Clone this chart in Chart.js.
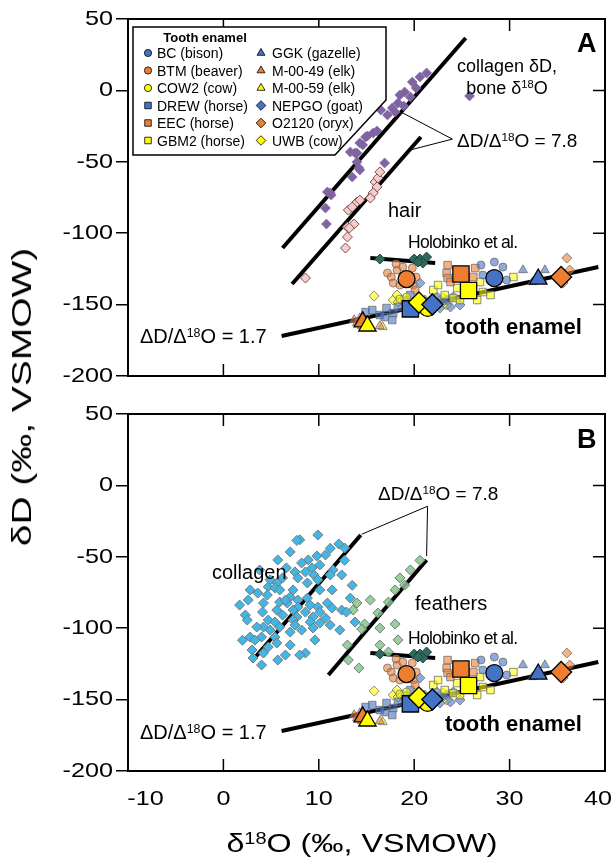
<!DOCTYPE html>
<html>
<head>
<meta charset="utf-8">
<title>dD vs d18O</title>
<script src="https://cdn.jsdelivr.net/npm/chart.js@4.4.1/dist/chart.umd.min.js"></script>
<style>
  html, body { margin: 0; padding: 0; background: #fff; }
  body { position: relative; width: 612px; height: 857px; overflow: hidden;
         font-family: "Liberation Sans", Arial, sans-serif; color: #000; }
  canvas { position: absolute; left: 0; }
  .t { position: absolute; white-space: nowrap; line-height: 1; z-index: 2; }
  .t sup { font-size: 0.62em; line-height: 0; vertical-align: 0.5em; }
  .l { transform: translateY(-50%); }
  .c { transform: translate(-50%, -50%); text-align: center; }
  .ann { font-size: 20px; }
  .leg { font-size: 14px; }
  .panel-id { font-size: 27px; font-weight: bold; transform: translateY(-50%); }
</style>
</head>
<body>
<canvas id="panelA" width="612" height="400" style="top:0"></canvas>
<canvas id="panelB" width="612" height="462" style="top:395px"></canvas>

<!-- axis titles -->
<div class="t" style="left:22px; top:397px; font-size:28px; transform: translate(-50%,-50%) rotate(-90deg) scaleX(1.39);">δD (‰, VSMOW)</div>
<div class="t" style="left:362px; top:843px; font-size:26px; transform: translate(-50%,-50%) scaleX(1.24);">δ<sup>18</sup>O (‰, VSMOW)</div>

<!-- legend text -->
<div class="t c" style="left:205px; top:37px; font-size:13px; font-weight:bold;">Tooth enamel</div>
<div id="legendText"></div>

<!-- panel A notes -->
<div class="t panel-id" style="left:577px; top:43px;">A</div>
<div class="t c" style="left:507px; top:77px; font-size:18px; line-height:22px;">collagen δD,<br>bone δ<sup>18</sup>O</div>
<div class="t l" style="left:457px; top:140px; font-size:19px;">ΔD/Δ<sup>18</sup>O = 7.8</div>
<div class="t ann l" style="left:388px; top:210px;">hair</div>
<div class="t l" style="left:408px; top:243px; font-size:17.5px; letter-spacing:-0.7px;">Holobinko et al.</div>
<div class="t l" style="left:445px; top:327px; font-size:22px; font-weight:bold;">tooth enamel</div>
<div class="t ann l" style="left:140px; top:336px;">ΔD/Δ<sup>18</sup>O = 1.7</div>

<!-- panel B notes -->
<div class="t panel-id" style="left:577px; top:439px;">B</div>
<div class="t ann l" style="left:212px; top:572px;">collagen</div>
<div class="t l" style="left:378px; top:493px; font-size:19px;">ΔD/Δ<sup>18</sup>O = 7.8</div>
<div class="t ann l" style="left:415px; top:603px;">feathers</div>
<div class="t l" style="left:408px; top:639px; font-size:17.5px; letter-spacing:-0.7px;">Holobinko et al.</div>
<div class="t l" style="left:445px; top:724px; font-size:22px; font-weight:bold;">tooth enamel</div>
<div class="t ann l" style="left:140px; top:732px;">ΔD/Δ<sup>18</sup>O = 1.7</div>

<script>
// axes
const X_TICKS = [-10, 0, 10, 20, 30, 40];
const Y_TICKS = [-200, -150, -100, -50, 0, 50];

// panel A: bone collagen dD vs bone d18O
const COLLAGEN_A = [[21.3,12.2],[20.6,9.4],[19.8,5.9],[20.2,1.7],[19.0,-1.1],[19.6,-4.6],[18.5,-3.2],
  [18.3,-8.8],[18.9,-10.9],[17.7,-12.3],[17.2,-17.2],[18.0,-15.1],[25.8,-3.9],[16.5,-13.7],
  [16.1,-28.4],[15.7,-29.8],[15.1,-31.9],[14.9,-32.6],[14.3,-36.8],[14.6,-38.2],[13.3,-43.1],
  [13.8,-43.8],[14.0,-43.8],[16.9,-50.8],[14.0,-50.1],[14.2,-54.3],[14.3,-55.7],[13.5,-60.6],
  [10.9,-71.1],[11.2,-71.8],[11.3,-73.3],[10.7,-82.4],[10.8,-93.6]];
// panel A: hair
const HAIR = [[15.9,-64.1],[16.2,-61.3],[16.1,-67.6],[15.7,-71.8],[15.4,-75.4],[14.0,-78.2],[14.3,-76.8],
  [13.1,-83.8],[13.5,-81.7],[13.0,-95.7],[13.7,-93.6],[13.2,-96.4],[13.0,-102.7],[12.8,-110.4],
  [8.6,-131.4],[16.4,-57.1]];
// both panels: Holobinko et al.
const HOLOBINKO = [[16.4,-118.1],[20.0,-118.1],[20.6,-118.1],[21.3,-116.7],[20.9,-120.9],[20.4,-120.2]];

// panel B: collagen
const COLLAGEN_B = [[12.1,-41.0],[9.8,-49.4],[8.9,-52.2],[10.1,-55.7],[8.2,-54.3],[9.3,-57.8],[6.6,-57.8],
  [7.5,-60.6],[8.6,-60.6],[9.5,-62.7],[12.4,-62.7],[7.8,-64.8],[8.8,-68.3],[5.6,-68.3],[4.7,-71.1],
  [5.4,-71.8],[3.6,-75.4],[5.9,-73.2],[7.3,-73.2],[4.6,-76.8],[10.1,-73.2],[11.4,-73.2],[7.0,-78.2],
  [7.8,-80.3],[8.8,-78.9],[4.2,-82.4],[5.9,-81.7],[6.7,-82.4],[7.8,-85.2],[9.1,-83.8],[9.9,-85.2],
  [10.9,-82.4],[5.6,-87.3],[7.3,-87.3],[8.6,-88.7],[10.1,-88.7],[11.4,-85.9],[12.4,-87.3],[6.2,-90.8],
  [7.7,-92.2],[9.4,-92.2],[10.7,-92.9],[12.9,-88.7],[4.7,-94.3],[5.4,-95.7],[7.3,-94.3],[9.1,-95.7],
  [10.1,-96.4],[4.2,-99.2],[5.9,-99.2],[8.2,-101.3],[9.4,-99.9],[3.5,-99.2],[4.9,-101.3],[2.8,-106.2],
  [4.0,-106.2],[5.4,-106.2],[7.0,-102.7],[2.0,-108.4],[3.3,-108.4],[5.6,-110.4],[4.7,-113.2],
  [3.0,-115.3],[4.2,-117.4],[3.1,-120.9],[8.6,-117.4],[5.7,-122.3],[8.0,-38.1],[9.9,-34.7],
  [10.7,-48.7],[7.0,-46.6],[5.7,-52.2],[6.2,-64.8],[11.5,-59.2],[13.3,-78.9],[13.8,-95.7],
  [2.3,-90.8],[4.1,-88.7],[2.6,-80.3],[12.7,-43.8],[7.7,-38.5],[11.2,-44.1],[12.7,-52.5],
  [13.5,-70.0],[3.8,-59.2],[4.9,-66.1],[2.8,-73.2],[1.7,-83.8],[2.5,-94.3],[7.0,-111.8],
  [8.0,-118.8],[4.0,-125.8],[6.5,-118.8],[9.6,-108.2],[11.2,-97.8],[12.2,-101.3],[7.5,-97.8],
  [6.5,-80.3],[9.9,-66.1],[11.2,-62.7]];
// panel B: feathers
const FEATHERS = [[20.6,-52.5],[19.6,-59.2],[18.5,-64.8],[18.0,-73.2],[17.3,-81.7],[16.2,-89.4],
  [14.8,-97.1],[18.0,-97.1],[16.4,-99.9],[14.5,-100.6],[13.0,-111.8],[16.4,-111.8],[13.1,-122.3],
  [14.2,-127.9],[14.0,-82.4],[13.6,-87.3],[15.4,-80.3],[19.0,-69.8],[17.3,-116.7],[18.3,-108.2]];

// tooth enamel, individual samples
const BC = [[27.0,-122.3],[28.4,-120.2],[29.3,-123.7],[29.7,-132.8],[27.2,-129.3]];
const BTM = [[17.2,-127.9],[17.6,-130.7],[18.2,-125.8],[18.8,-123.7],[19.8,-124.4],[17.8,-134.9],
  [19.9,-136.3],[20.1,-139.8],[18.5,-136.3],[20.2,-130.7],[18.1,-121.6]];
const COW2 = [[18.5,-146.1],[19.2,-144.7],[22.4,-150.3]];
const DREW = [[17.1,-152.4],[17.8,-155.9],[16.9,-158.7],[18.3,-151.7],[16.4,-157.3],[17.7,-160.8],
  [19.0,-146.8],[19.6,-143.3],[15.6,-153.8],[14.9,-155.2]];
const EEC = [[23.5,-122.3],[23.4,-127.9],[23.5,-131.4],[26.4,-124.4],[26.2,-130.7],[23.8,-134.2]];
const GBM2 = [[22.0,-139.8],[24.5,-138.4],[24.1,-145.4],[26.6,-146.8],[26.9,-134.2],[30.4,-130.7],
  [24.8,-146.8],[23.2,-143.3],[27.2,-141.2],[22.5,-136.3],[25.8,-139.8],[28.0,-143.3]];
const GGK = [[31.4,-125.8],[33.7,-125.8],[33.4,-132.8],[32.4,-134.2]];
const M0049 = [[13.7,-160.8],[14.0,-162.9],[16.4,-165.0],[14.3,-159.4]];
const M0059 = [[16.7,-165.7],[14.5,-165.0]];
const NEPGO = [[20.6,-134.9],[22.4,-144.7],[23.0,-148.2],[23.4,-146.8],[23.8,-151.7],[22.7,-152.4],
  [24.1,-144.7],[24.8,-150.3],[21.7,-153.8],[21.1,-146.8]];
const O2120 = [[36.0,-117.4],[36.3,-125.8],[35.6,-134.9]];
const UWB = [[15.8,-144.0],[17.8,-146.8],[18.3,-148.2],[18.8,-146.8],[23.0,-145.4],[23.4,-150.3],[18.2,-143.3]];

// tooth enamel, specimen means
const BC_MEAN = [28.4, -131.4];
const BTM_MEAN = [19.2, -132.1];
const COW2_MEAN = [21.4, -152.3];
const DREW_MEAN = [19.6, -153.0];
const EEC_MEAN = [24.9, -128.6];
const GBM2_MEAN = [25.7, -140.1];
const GGK_MEAN = [33.0, -132.1];
const M0049_MEAN = [14.6, -162.1];
const M0059_MEAN = [15.1, -165.0];
const NEPGO_MEAN = [21.9, -149.9];
const O2120_MEAN = [35.4, -130.7];
const UWB_MEAN = [20.5, -148.5];

// regression lines (end points)
const LINE_COLLAGEN_A = [[6.2,-110.4],[25.4,36.7]];
const LINE_HAIR = [[7.2,-135.6],[20.7,-32.6]];
const LINE_COLLAGEN_B = [[3.0,-123.0],[14.4,-34.7]];
const LINE_FEATHERS = [[11.0,-132.8],[21.3,-52.2]];
const LINE_HOLOBINKO = [[15.4,-117.4],[22.2,-120.9]];
const LINE_ENAMEL = [[6.1,-172.0],[39.3,-123.7]];
// leader lines to the 7.8 labels
const LEADER_A = [[18.6,-15.1],[24.0,-34.1],[19.6,-41.7]];
const LEADER_B1 = [[14.5,-34.2],[21.4,-14.6]];
const LEADER_B2 = [[21.4,-14.6],[21.3,-49.4]];

const FONT = '"Liberation Sans", Arial, sans-serif';
const BLUE = 'rgb(68,114,196)';
const ORANGE = 'rgb(237,125,49)';
const YELLOW = 'rgb(255,255,0)';

// meanOrder: lower is drawn on top
const enamelGroups = [
  {label: 'BC (bison)', pts: BC, mean: BC_MEAN, color: BLUE, shape: 'circle', meanOrder: 2},
  {label: 'BTM (beaver)', pts: BTM, mean: BTM_MEAN, color: ORANGE, shape: 'circle', meanOrder: 2},
  {label: 'COW2 (cow)', pts: COW2, mean: COW2_MEAN, color: YELLOW, shape: 'circle', meanOrder: 4},
  {label: 'DREW (horse)', pts: DREW, mean: DREW_MEAN, color: BLUE, shape: 'rect', meanOrder: 3},
  {label: 'EEC (horse)', pts: EEC, mean: EEC_MEAN, color: ORANGE, shape: 'rect', meanOrder: 2},
  {label: 'GBM2 (horse)', pts: GBM2, mean: GBM2_MEAN, color: YELLOW, shape: 'rect', meanOrder: 2},
  {label: 'GGK (gazelle)', pts: GGK, mean: GGK_MEAN, color: BLUE, shape: 'triangle', meanOrder: 2},
  {label: 'M-00-49 (elk)', pts: M0049, mean: M0049_MEAN, color: ORANGE, shape: 'triangle', meanOrder: 3},
  {label: 'M-00-59 (elk)', pts: M0059, mean: M0059_MEAN, color: YELLOW, shape: 'triangle', meanOrder: 2},
  {label: 'NEPGO (goat)', pts: NEPGO, mean: NEPGO_MEAN, color: BLUE, shape: 'rectRot', meanOrder: 0},
  {label: 'O2120 (oryx)', pts: O2120, mean: O2120_MEAN, color: ORANGE, shape: 'rectRot', meanOrder: 2},
  {label: 'UWB (cow)', pts: UWB, mean: UWB_MEAN, color: YELLOW, shape: 'rectRot', meanOrder: 1}
];
const smallSize = {circle: 4, rect: 5.3, triangle: 5.2, rectRot: 5};
const meanSize = {circle: 8.5, rect: 11.5, triangle: 10, rectRot: 10.5};
const legendSize = {circle: 3.6, rect: 4.6, triangle: 4.6, rectRot: 4.8};

const fade = (rgb, a) => rgb.replace('rgb(', 'rgba(').replace(')', ',' + a + ')');
const xy = arr => arr.map(p => ({x: p[0], y: p[1]}));

function lineSet(seg, width) {
  return {data: xy(seg), showLine: true, borderColor: '#000', borderWidth: width,
    pointRadius: 0, order: 20};
}

function pointSet(pts, shape, r, fill, stroke, bw, order) {
  return {data: xy(pts), pointStyle: shape, pointRadius: r,
    pointBackgroundColor: fill, pointBorderColor: stroke, pointBorderWidth: bw,
    backgroundColor: fill, borderColor: stroke, order};
}

function enamelSets() {
  const sets = [];
  enamelGroups.forEach(g => {
    sets.push(pointSet(g.pts, g.shape, smallSize[g.shape], fade(g.color, 0.6), 'rgba(110,110,110,0.8)', 1, 8));
    sets.push(pointSet([g.mean], g.shape, meanSize[g.shape], g.color, '#000', 1.3, g.meanOrder));
  });
  sets.push(pointSet(HOLOBINKO, 'rectRot', 5, 'rgb(46,107,94)', 'rgb(30,70,60)', 1, 5));
  sets.push(lineSet(LINE_HOLOBINKO, 4));
  sets.push(lineSet(LINE_ENAMEL, 4));
  return sets;
}

function drawLegend(ctx) {
  ctx.beginPath();
  ctx.moveTo(133, 27); ctx.lineTo(386, 27); ctx.lineTo(386, 100);
  ctx.lineTo(335, 155); ctx.lineTo(133, 155); ctx.closePath();
  ctx.fillStyle = '#fff'; ctx.fill();
  ctx.lineWidth = 1.5; ctx.strokeStyle = '#000'; ctx.stroke();
  enamelGroups.forEach((g, i) => {
    const col = Math.floor(i / 6), row = i % 6;
    ctx.fillStyle = g.color; ctx.strokeStyle = '#000'; ctx.lineWidth = 0.8;
    Chart.helpers.drawPoint(ctx, {pointStyle: g.shape, radius: legendSize[g.shape], borderWidth: 0.8},
      col ? 261 : 148, 53 + row * 17.5);
  });
}

// box, inward ticks on bottom/top/right, legend on panel A
const framePlugin = {
  id: 'frame',
  afterDatasetsDraw(chart, args, opts) {
    const {ctx, chartArea: a, scales: {x, y}} = chart;
    ctx.save();
    ctx.strokeStyle = '#000';
    ctx.lineWidth = 1.5;
    ctx.beginPath();
    X_TICKS.forEach(v => {
      const px = x.getPixelForValue(v);
      ctx.moveTo(px, a.bottom); ctx.lineTo(px, a.bottom - 12);
      ctx.moveTo(px, a.top); ctx.lineTo(px, a.top + 12);
    });
    Y_TICKS.forEach(v => {
      const py = y.getPixelForValue(v);
      ctx.moveTo(a.right, py); ctx.lineTo(a.right - 12, py);
    });
    ctx.stroke();
    ctx.lineWidth = 2;
    ctx.strokeRect(a.left, a.top, a.right - a.left, a.bottom - a.top);
    if (opts.legend) drawLegend(ctx);
    ctx.restore();
  }
};

// the original figure's tick labels are drawn wide; stretch them about their anchor
function stretchLabels(scale, k) {
  if (scale._stretched) return;
  scale._stretched = true;
  const draw = scale.drawLabels.bind(scale);
  scale.drawLabels = area => {
    const ctx = scale.ctx;
    const rotate = ctx.rotate;
    ctx.rotate = function (a) { rotate.call(this, a); this.scale(k, 1); };
    draw(area);
    delete ctx.rotate;
  };
}

function makePanel(id, datasets, bottomAxis) {
  const xScale = {
    type: 'linear', min: -10, max: 40, display: bottomAxis,
    afterBuildTicks: s => { s.ticks = X_TICKS.map(v => ({value: v})); },
    ticks: {font: {family: FONT, size: 21}, color: '#000', padding: 8, maxRotation: 0, autoSkip: false,
      callback: v => v === -10 ? '     -10' : v === 40 ? '40  ' : String(v)},
    grid: {display: false},
    border: {display: false},
    afterFit: s => {
      if (!bottomAxis) return;
      s.height = 86; s.paddingLeft = 0; s.paddingRight = 0;
      stretchLabels(s, 1.2);
    }
  };
  return new Chart(document.getElementById(id), {
    type: 'scatter',
    data: {datasets},
    options: {
      responsive: false,
      animation: false,
      events: [],
      layout: {autoPadding: false, padding: {left: 0, right: 7, top: 19, bottom: bottomAxis ? 0 : 24}},
      plugins: {legend: {display: false}, tooltip: {enabled: false}, frame: {legend: !bottomAxis}},
      scales: {
        x: xScale,
        y: {
          type: 'linear', min: -200, max: 50,
          afterBuildTicks: s => { s.ticks = Y_TICKS.map(v => ({value: v})); },
          ticks: {font: {family: FONT, size: 21}, color: '#000', padding: 3, callback: v => String(v)},
          grid: {drawOnChartArea: false, drawTicks: true, tickLength: 12, color: '#000', lineWidth: 1.5},
          border: {display: false},
          afterFit: s => { s.width = 128; stretchLabels(s, 1.2); }
        }
      }
    },
    plugins: [framePlugin]
  });
}

const setsA = [
  ...enamelSets(),
  pointSet(COLLAGEN_A, 'rectRot', 5, 'rgb(128,100,162)', 'rgba(128,100,162,0.6)', 1, 9),
  pointSet(HAIR, 'rectRot', 5, 'rgb(246,204,204)', 'rgb(120,80,80)', 1, 9),
  lineSet(LINE_COLLAGEN_A, 4),
  lineSet(LINE_HAIR, 4),
  lineSet(LEADER_A, 1)
];
const setsB = [
  ...enamelSets(),
  pointSet(COLLAGEN_B, 'rectRot', 5, 'rgb(64,183,230)', 'rgb(120,120,120)', 1, 9),
  pointSet(FEATHERS, 'rectRot', 5, 'rgba(130,200,140,0.85)', 'rgb(120,120,120)', 1, 9),
  lineSet(LINE_COLLAGEN_B, 4),
  lineSet(LINE_FEATHERS, 4),
  lineSet(LEADER_B1, 1),
  lineSet(LEADER_B2, 1)
];

makePanel('panelA', setsA, false);
makePanel('panelB', setsB, true);

// legend labels, two columns of six
const legendText = document.getElementById('legendText');
enamelGroups.forEach((g, i) => {
  const col = Math.floor(i / 6), row = i % 6;
  const d = document.createElement('div');
  d.className = 't leg l';
  d.style.left = (col ? 272 : 157) + 'px';
  d.style.top = (53 + row * 17.5) + 'px';
  d.textContent = g.label;
  legendText.appendChild(d);
});
</script>
</body>
</html>
